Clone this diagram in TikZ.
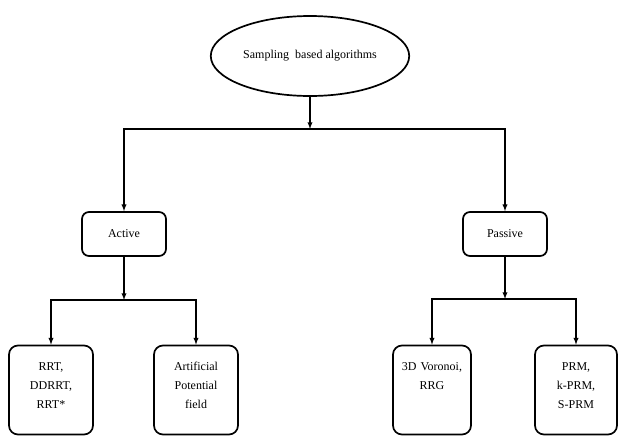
\documentclass[tikz,border=0pt]{standalone}
\usepackage{fontspec}
\setmainfont{Liberation Serif}
\usetikzlibrary{shapes.geometric}

\tikzset{
  midbox/.style={draw, rounded corners=7pt, line width=1.7pt, minimum width=84pt, minimum height=44pt},
  leafbox/.style={draw, rounded corners=9pt, line width=1.7pt, minimum width=84pt, text width=74pt, align=center,
    inner xsep=4pt, inner ysep=4pt, text height=21pt, text depth=60pt},
}

\begin{document}
\begin{tikzpicture}[x=1pt, y=-1pt, line width=1.3pt, >=latex, font=\fontsize{12}{19}\selectfont]
            \useasboundingbox (0,0) rectangle (618,437);
            \node[draw, ellipse, line width=1.7pt, minimum width=184pt, minimum height=80pt] (root) at (310,56) {Sampling\ \ based algorithms};
            \node[midbox] (active) at (124,234) {Active};
            \node[midbox] (passive) at (505,234) {Passive};
            \node[leafbox] (rrt) at (51,390) {RRT,\\ DDRRT,\\ RRT*};
            \node[leafbox] (apf) at (196,390) {Artificial\\ Potential\\ field};
            \node[leafbox, minimum width=78pt, text width=70pt] (voronoi) at (432,390) {3D Voronoi,\\ RRG};
            \node[leafbox, minimum width=81pt] (prm) at (576,390) {PRM,\\ k-PRM,\\ S-PRM};
            \coordinate (rootjoin) at (310,129);
            \coordinate (activejoin) at (124,300);
            \coordinate (passivejoin) at (505,299);
            \draw[->] (root) -- (rootjoin);
            \draw[->] (rootjoin) -| (active);
            \draw[->] (rootjoin) -| (passive);
            \draw[->] (active) -- (activejoin);
            \draw[->] (activejoin) -| (rrt);
            \draw[->] (activejoin) -| (apf);
            \draw[->] (passive) -- (passivejoin);
            \draw[->] (passivejoin) -| (voronoi);
            \draw[->] (passivejoin) -| (prm);
          \end{tikzpicture}
\end{document}
